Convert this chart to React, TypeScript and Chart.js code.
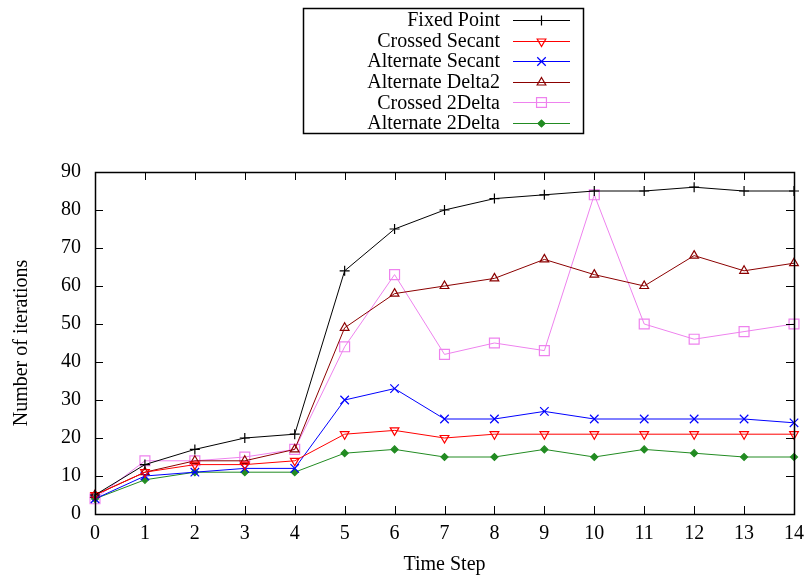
import React, { useEffect, useRef } from "react";
import { Chart, registerables } from "chart.js";
import { drawPoint } from "chart.js/helpers";

Chart.register(...registerables);

const timeSteps = ["0", "1", "2", "3", "4", "5", "6", "7", "8", "9", "10", "11", "12", "13", "14"];

const fixedPoint = [5, 13, 17, 20, 21, 64, 75, 80, 83, 84, 85, 85, 86, 85, 85];
const crossedSecant = [5, 11, 13, 13, 14, 21, 22, 20, 21, 21, 21, 21, 21, 21, 21];
const alternateSecant = [4, 10, 11, 12, 12, 30, 33, 25, 25, 27, 25, 25, 25, 25, 24];
const alternateDelta2 = [5, 11, 14, 14, 17, 49, 58, 60, 62, 67, 63, 60, 68, 64, 66];
const crossed2Delta = [4, 14, 14, 15, 17, 44, 63, 42, 45, 43, 84, 50, 46, 48, 50];
const alternate2Delta = [4, 9, 11, 11, 11, 16, 17, 15, 15, 17, 15, 17, 16, 15, 15];

const yTicks = [0, 10, 20, 30, 40, 50, 60, 70, 80, 90];

const FONT = "'Liberation Serif', 'Times New Roman', serif";

type SeriesDef = {
  label: string;
  data: number[];
  color: string;
  pointStyle: string;
  rotation: number;
  radius: number;
  fill: boolean;
};

const series: SeriesDef[] = [
  { label: "Fixed Point", data: fixedPoint, color: "#000000", pointStyle: "cross", rotation: 0, radius: 5, fill: false },
  { label: "Crossed Secant", data: crossedSecant, color: "#ff0000", pointStyle: "triangle", rotation: 180, radius: 5, fill: false },
  { label: "Alternate Secant", data: alternateSecant, color: "#0000ff", pointStyle: "crossRot", rotation: 0, radius: 6, fill: false },
  { label: "Alternate Delta2", data: alternateDelta2, color: "#8b0000", pointStyle: "triangle", rotation: 0, radius: 5, fill: false },
  { label: "Crossed 2Delta", data: crossed2Delta, color: "#ee82ee", pointStyle: "rect", rotation: 0, radius: 7, fill: false },
  { label: "Alternate 2Delta", data: alternate2Delta, color: "#228b22", pointStyle: "rectRot", rotation: 0, radius: 3.5, fill: true },
];

const frameAndLegend = {
  id: "frameAndLegend",
  afterDraw(chart: any) {
    const ctx = chart.ctx as CanvasRenderingContext2D;
    const { left, right, top, bottom } = chart.chartArea;
    const xs = chart.scales.x;
    const ys = chart.scales.y;
    const tl = 8;
    ctx.save();
    ctx.strokeStyle = "#000";
    ctx.lineWidth = 1;
    ctx.beginPath();
    xs.ticks.forEach((_t: any, i: number) => {
      const px = Math.round(xs.getPixelForTick(i)) + 0.5;
      ctx.moveTo(px, bottom);
      ctx.lineTo(px, bottom - tl);
      ctx.moveTo(px, top);
      ctx.lineTo(px, top + tl);
    });
    ys.ticks.forEach((_t: any, i: number) => {
      const py = Math.round(ys.getPixelForTick(i)) + 0.5;
      ctx.moveTo(left, py);
      ctx.lineTo(left + tl, py);
      ctx.moveTo(right, py);
      ctx.lineTo(right - tl, py);
    });
    ctx.stroke();
    ctx.lineWidth = 1.5;
    ctx.strokeRect(Math.round(left) + 0.5, Math.round(top) + 0.5, Math.round(right - left), Math.round(bottom - top));

    // legend
    const bx = 303.5, by = 8.5, bw = 280, bh = 125;
    ctx.lineWidth = 1.5;
    ctx.strokeRect(bx, by, bw, bh);
    ctx.font = `20px ${FONT}`;
    ctx.textAlign = "right";
    ctx.textBaseline = "middle";
    series.forEach((s, i) => {
      const y = 20 + i * 20.6;
      ctx.fillStyle = "#000";
      ctx.fillText(s.label, 500, y + 1);
      ctx.strokeStyle = s.color;
      ctx.lineWidth = 1;
      ctx.beginPath();
      ctx.moveTo(513, Math.round(y) + 0.5);
      ctx.lineTo(570, Math.round(y) + 0.5);
      ctx.stroke();
      ctx.fillStyle = s.fill ? s.color : "rgba(0,0,0,0)";
      ctx.lineWidth = 1.2;
      drawPoint(ctx, { pointStyle: s.pointStyle as any, rotation: s.rotation, radius: s.radius, borderWidth: 1.2 } as any, 541.5, Math.round(y) + 0.5);
      if (s.fill) ctx.fill();
    });
    ctx.restore();
  },
};

export default function App() {
  const ref = useRef<HTMLCanvasElement | null>(null);
  useEffect(() => {
    if (!ref.current) return;
    const chart = new Chart(ref.current, {
      type: "line",
      data: {
        labels: timeSteps,
        datasets: series.map((s) => ({
          label: s.label,
          data: s.data,
          borderColor: s.color,
          backgroundColor: s.fill ? s.color : "rgba(0,0,0,0)",
          borderWidth: 1,
          pointStyle: s.pointStyle as any,
          pointRotation: s.rotation,
          pointRadius: s.radius,
          pointBorderWidth: 1.2,
          pointBorderColor: s.color,
          pointBackgroundColor: s.fill ? s.color : "rgba(0,0,0,0)",
          tension: 0,
          clip: false as any,
        })),
      },
      options: {
        responsive: false,
        animation: false,
        devicePixelRatio: 1,
        layout: { padding: { top: 172, right: 10, bottom: 0, left: 0 } },
        plugins: {
          legend: { display: false },
          tooltip: { enabled: false },
        },
        scales: {
          x: {
            type: "category",
            offset: false,
            grid: { display: false, drawTicks: false },
            border: { display: false },
            ticks: { color: "#000", font: { family: FONT, size: 20 }, padding: 8, maxRotation: 0, autoSkip: false },
            title: { display: true, text: "Time Step", color: "#000", font: { family: FONT, size: 20 }, padding: { top: 0, bottom: 0 } },
            afterFit: (s: any) => { s.height = 63; s.paddingLeft = 0; s.paddingRight = 0; },
          },
          y: {
            min: 0,
            max: 90,
            afterBuildTicks: (s: any) => { s.ticks = yTicks.map((v) => ({ value: v })); },
            grid: { display: false, drawTicks: false },
            border: { display: false },
            ticks: { color: "#000", font: { family: FONT, size: 20 }, padding: 14 },
            title: { display: true, text: "Number of iterations", color: "#000", font: { family: FONT, size: 20 }, padding: { top: 10, bottom: 0 } },
            afterFit: (s: any) => { s.width = 95; s.paddingTop = 0; s.paddingBottom = 0; },
          },
        },
      },
      plugins: [frameAndLegend],
    });
    return () => chart.destroy();
  }, []);
  return (
    <canvas
      ref={ref}
      width={804}
      height={577}
      style={{ position: "absolute", left: 0, top: 0, width: 804, height: 577 }}
    />
  );
}
